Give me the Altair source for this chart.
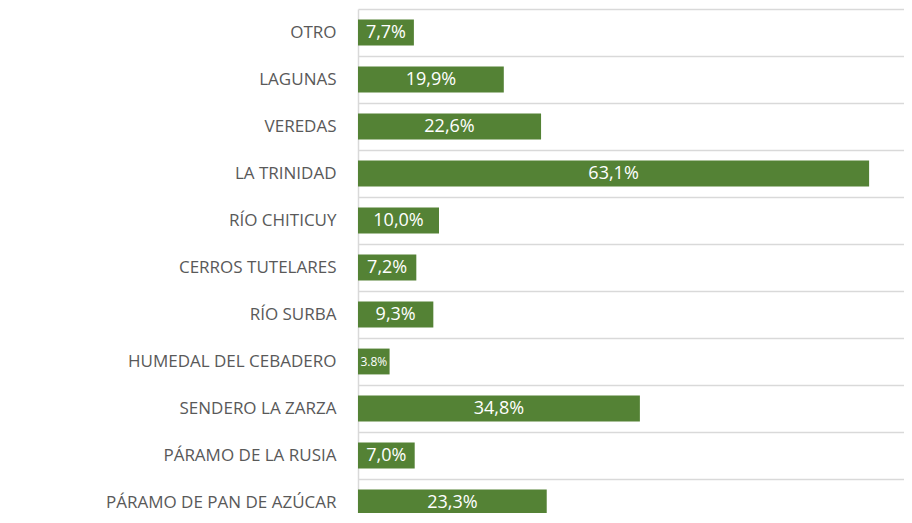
import altair as alt
import pandas as pd

categorias = ["OTRO", "LAGUNAS", "VEREDAS", "LA TRINIDAD", "RÍO CHITICUY",
              "CERROS TUTELARES", "RÍO SURBA", "HUMEDAL DEL CEBADERO",
              "SENDERO LA ZARZA", "PÁRAMO DE LA RUSIA", "PÁRAMO DE PAN DE AZÚCAR"]
valores = [6.9, 18.0, 22.6, 63.1, 10.0, 7.2, 9.3, 3.9, 34.8, 7.0, 23.3]
etiquetas = ["7,7%", "19,9%", "22,6%", "63,1%", "10,0%", "7,2%", "9,3%",
             "3.8%", "34,8%", "7,0%", "23,3%"]

df = pd.DataFrame({"cat": categorias, "v": valores, "lab": etiquetas})

W, H = 546, 505
XMAX = 546 / 8.1

yscale = alt.Scale(domain=categorias, paddingInner=0, paddingOuter=0, range=[1, 518])
xscale = alt.Scale(domain=[0, XMAX], nice=False)

base = alt.Chart(df)

bars = base.mark_bar(color="#548235", height=alt.RelativeBandSize(0.55)).encode(
    y=alt.Y("cat:N", sort=categorias, scale=yscale,
            axis=alt.Axis(title=None, domain=True, domainColor="#d9d9d9",
                          domainWidth=1.5, ticks=False, grid=True,
                          gridColor="#d9d9d9", gridWidth=1.5, tickBand="extent",
                          labelFont="Open Sans", labelFontSize=17, labelLimit=0,
                          labelColor="#595959", labelPadding=22)),
    x=alt.X("v:Q", scale=xscale, axis=None),
)

texts = base.transform_calculate(mid="datum.v / 2").mark_text(
    color="white", font="Open Sans", align="center", baseline="middle"
).encode(
    y=alt.Y("cat:N", sort=categorias, scale=yscale),
    x=alt.X("mid:Q", scale=xscale),
    text="lab:N",
    size=alt.condition("datum.v < 5", alt.value(12), alt.value(18)),
)

chart = alt.layer(bars, texts).properties(
    width=W, height=H,
    autosize=alt.AutoSizeParams(type="none"),
    padding={"left": 350, "top": 0, "right": 0, "bottom": 0},
).configure_view(stroke=None)

chart.save("out.html", embed_options={"renderer": "svg", "actions": False})
